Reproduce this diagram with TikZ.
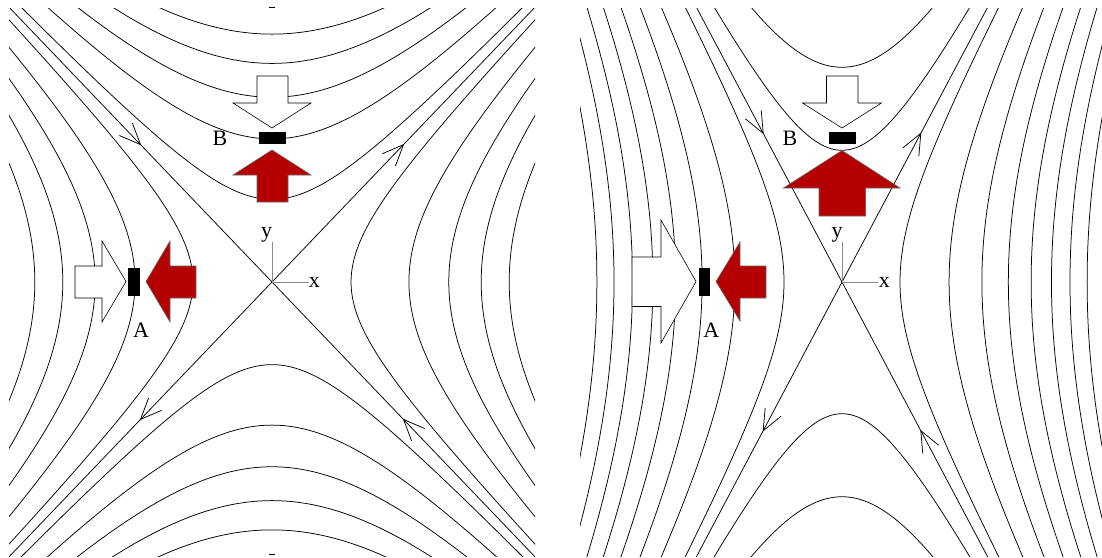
\documentclass[tikz,border=0pt]{standalone}
\usepackage{fontspec}
\setmainfont{Liberation Serif}
\definecolor{myred}{RGB}{180,0,0}
\newcommand\asyhead[3]{\draw[curve] (#1,#2) -- ++(#3+157:23) (#1,#2) -- ++(#3+203:23);}
\begin{document}
\begin{tikzpicture}[x=1pt,y=-1pt,
  curve/.style={line width=0.75pt, black},
  axisline/.style={line width=0.9pt, black!45},
  whitearrow/.style={fill=white, draw=black, line width=0.6pt, line join=miter},
  redarrow/.style={fill=myred, draw=black!60, line width=0.6pt, line join=miter},
  bar/.style={fill=black, draw=black, line width=0.5pt},
  lbl/.style={font=\fontsize{22}{22}\selectfont, inner sep=0pt, anchor=base}]
\fill[white] (0,0) rectangle (1102,557);
\useasboundingbox (0,0) rectangle (1102,557);

% ---------------- left panel ----------------
\begin{scope}
\clip (9,8) rectangle (535,556);
\begin{scope}[shift={(272,282)}]
\foreach \k in {0,...,4}{
  \pgfmathsetmacro\a{100*sqrt(1.25*(\k+0.5))}
  \draw[curve] plot[domain=-2.3:2.3, samples=121, smooth, variable=\t] ({\a*cosh(\t)},{1.045*\a*sinh(\t)});
  \draw[curve] plot[domain=-2.3:2.3, samples=121, smooth, variable=\t] ({-\a*cosh(\t)},{1.045*\a*sinh(\t)});
  \draw[curve] plot[domain=-2.3:2.3, samples=121, smooth, variable=\t] ({\a*sinh(\t)},{1.045*\a*cosh(\t)});
  \draw[curve] plot[domain=-2.3:2.3, samples=121, smooth, variable=\t] ({\a*sinh(\t)},{-1.045*\a*cosh(\t)});
}
\coordinate (L1) at (-300,-313.5);
\coordinate (L2) at (300,313.5);
\coordinate (L3) at (-300,313.5);
\coordinate (L4) at (300,-313.5);
\draw[curve] (L1) -- (L2);
\draw[curve] (L3) -- (L4);
\end{scope}
\end{scope}
\draw[curve] (269,7) -- (275,7);
\draw[curve] (269,554) -- (275,554);
\asyhead{140.5}{144.6}{46.3}
\asyhead{403.5}{144.6}{-46.3}
\asyhead{140.5}{419.4}{133.7}
\asyhead{403.5}{419.4}{226.3}

\coordinate (O1) at (272,282);
\coordinate (Y1) at (272,242);
\coordinate (X1) at (309,282);
\draw[axisline] (O1) -- (Y1);
\draw[axisline] (O1) -- (X1);
\node[lbl] (ly1) at (266.5,237) {y};
\node[lbl] (lx1) at (314.3,287.3) {x};

\draw[whitearrow] (75,266) -- (102,266) -- (102,241) -- (126,281.5) -- (102,322) -- (102,298) -- (75,298) -- cycle;
\draw[redarrow] (196,266) -- (170,266) -- (170,241) -- (146,281.5) -- (170,322) -- (170,298) -- (196,298) -- cycle;
\draw[bar] (128,268) rectangle (139,295);
\node[lbl] (la1) at (141,337) {A};

\draw[whitearrow] (257,76) -- (288,76) -- (288,103) -- (311,103) -- (272,128) -- (233,103) -- (257,103) -- cycle;
\draw[redarrow] (272,150) -- (311,175) -- (288,175) -- (288,202) -- (257,202) -- (257,175) -- (233,175) -- cycle;
\draw[bar] (259,132) rectangle (285,143);
\node[lbl] (lb1) at (220,145) {B};

% ---------------- right panel ----------------
\begin{scope}
\clip (580,8) rectangle (1102,556);
\begin{scope}[shift={(842,282)}]
\foreach \k in {0,...,7}{
  \pgfmathsetmacro\a{10*sqrt(33.64+81*\k)}
  \draw[curve] plot[domain=-2.3:2.3, samples=121, smooth, variable=\t] ({\a*cosh(\t)},{1.887*\a*sinh(\t)});
  \draw[curve] plot[domain=-2.3:2.3, samples=121, smooth, variable=\t] ({-\a*cosh(\t)},{1.887*\a*sinh(\t)});
}
\foreach \bb in {48.71,129.46}{
  \pgfmathsetmacro\b{10*sqrt(\bb)}
  \draw[curve] plot[domain=-2.3:2.3, samples=121, smooth, variable=\t] ({\b*sinh(\t)},{1.887*\b*cosh(\t)});
  \draw[curve] plot[domain=-2.3:2.3, samples=121, smooth, variable=\t] ({\b*sinh(\t)},{-1.887*\b*cosh(\t)});
}
\coordinate (R1) at (-160,-301.9);
\coordinate (R2) at (160,301.9);
\coordinate (R3) at (-160,301.9);
\coordinate (R4) at (160,-301.9);
\draw[curve] (R1) -- (R2);
\draw[curve] (R3) -- (R4);
\end{scope}
\end{scope}
\asyhead{763.2}{133.3}{62.1}
\asyhead{920.8}{133.3}{-62.1}
\asyhead{763.2}{430.7}{117.9}
\asyhead{920.8}{430.7}{242.1}

\coordinate (O2) at (842,282);
\coordinate (Y2) at (842,242);
\coordinate (X2) at (878,282);
\draw[axisline] (O2) -- (Y2);
\draw[axisline] (O2) -- (X2);
\node[lbl] (ly2) at (837,237) {y};
\node[lbl] (lx2) at (884.3,287.3) {x};

\draw[whitearrow] (632,257) -- (661,257) -- (661,220) -- (696,281.5) -- (661,343) -- (661,306.5) -- (632,306.5) -- cycle;
\draw[redarrow] (766,266) -- (740,266) -- (740,242) -- (716,281.5) -- (740,321) -- (740,298) -- (766,298) -- cycle;
\draw[bar] (699,268) rectangle (709,295);
\node[lbl] (la2) at (711.4,337) {A};

\draw[whitearrow] (826.5,76) -- (858,76) -- (858,103) -- (881.5,103) -- (842,128) -- (802.5,103) -- (826.5,103) -- cycle;
\draw[redarrow] (842,150.5) -- (900,188) -- (865.5,188) -- (865.5,216) -- (819,216) -- (819,188) -- (783.5,188) -- cycle;
\draw[bar] (829,132.5) rectangle (855,143.5);
\node[lbl] (lb2) at (790,145) {B};
\end{tikzpicture}
\end{document}
